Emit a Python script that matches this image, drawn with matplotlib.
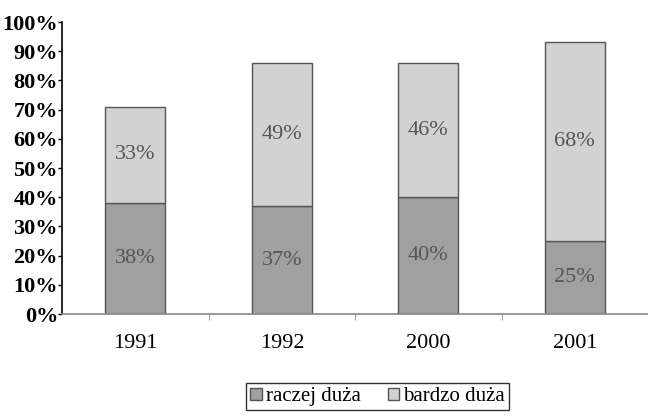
import numpy as np
import matplotlib
matplotlib.use("Agg")
import matplotlib.pyplot as plt
from matplotlib.ticker import FixedLocator, PercentFormatter

years = ["1991", "1992", "2000", "2001"]
raczej = [38, 37, 40, 25]
bardzo = [33, 49, 46, 68]

dark = "#a0a0a0"
light = "#d2d2d2"

plt.rcParams['font.family'] = ['Liberation Serif', 'DejaVu Serif']

fig = plt.figure(figsize=(6.48, 4.16), dpi=100)
ax = fig.add_axes([0.096, 0.245, 0.904, 0.702])

x = np.arange(len(years))
w = 0.41
ax.bar(x, raczej, w, color=dark, edgecolor="#555555", linewidth=1.0, label="raczej duża")
ax.bar(x, bardzo, w, bottom=raczej, color=light, edgecolor="#555555", linewidth=1.0, label="bardzo duża")

# etykiety w srodku segmentow
for i in range(len(years)):
    ax.text(x[i], raczej[i] / 2, f"{raczej[i]}%", ha="center", va="center",
            fontsize=16, color="#555555")
    ax.text(x[i], raczej[i] + bardzo[i] / 2, f"{bardzo[i]}%", ha="center", va="center",
            fontsize=16, color="#555555")

ax.set_xlim(-0.5, len(years) - 0.5)
ax.set_ylim(0, 100)
ax.set_yticks(np.arange(0, 101, 10))
ax.yaxis.set_major_formatter(PercentFormatter(decimals=0))
for lab in ax.get_yticklabels():
    lab.set_fontweight("bold")
    lab.set_fontsize(16)
ax.tick_params(axis="y", direction="out", length=3, width=1, pad=0)

ax.set_xticks(x)
ax.set_xticklabels(years, fontsize=16)
ax.tick_params(axis="x", which="major", length=0, pad=14)
ax.xaxis.set_minor_locator(FixedLocator([0.5, 1.5, 2.5]))
ax.tick_params(axis="x", which="minor", direction="out", length=4, color="#888888")

for s in ["top", "right"]:
    ax.spines[s].set_visible(False)
ax.spines["left"].set_linewidth(1.2)
ax.spines["bottom"].set_color("#888888")
ax.spines["bottom"].set_linewidth(1.2)

leg = ax.legend(loc="upper left", bbox_to_anchor=(246 / 648, 33 / 416), bbox_transform=fig.transFigure,
                ncol=2, frameon=True, fancybox=False, fontsize=15, handlelength=0.55, handleheight=0.55,
                handletextpad=0.2, columnspacing=1.3, borderpad=0.2, borderaxespad=0)
leg.get_frame().set_edgecolor("black")
leg.get_frame().set_linewidth(1.0)

fig.savefig("out.png", dpi=100)
